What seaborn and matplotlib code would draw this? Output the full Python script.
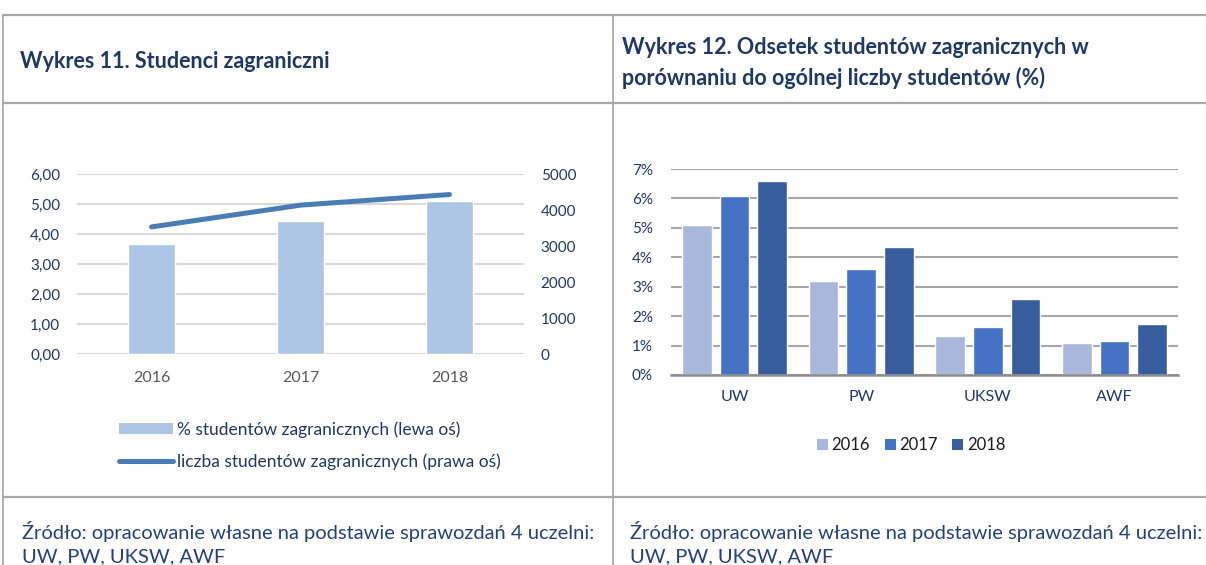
import pandas as pd
import seaborn as sns
import matplotlib.pyplot as plt
from matplotlib.lines import Line2D
from matplotlib.patches import Patch
from matplotlib.ticker import FuncFormatter, MultipleLocator

# Wykres 11 - dane
lata = ["2016", "2017", "2018"]
procent_zagranicznych = [3.66, 4.44, 5.11]     # lewa oś (%)
liczba_zagranicznych = [3530, 4135, 4430]      # prawa oś

# Wykres 12 - dane
uczelnie = ["UW", "PW", "UKSW", "AWF"]
odsetek_2016 = [5.10, 3.20, 1.32, 1.08]
odsetek_2017 = [6.09, 3.59, 1.63, 1.16]
odsetek_2018 = [6.59, 4.34, 2.57, 1.72]
lata_12 = ["2016", "2017", "2018"]

NAVY = "#1F3864"
SRC = "#24417A"
BAR_LIGHT = "#ADC6E6"
LINE_BLUE = "#4A7DB6"
PALETTE_12 = ["#A9B7DC", "#4472C4", "#365E9F"]
FRAME = "#A6A6A6"

sns.set_theme(style="white")
plt.rcParams["font.family"] = ["Lato", "DejaVu Sans"]

W, H = 1206, 565
fig = plt.figure(figsize=(W / 100, H / 100), dpi=100)


def fx(px):
    return px / W


def fy(py):
    return 1 - py / H


# ramka tabeli
for y in (15, 103, 497):
    fig.add_artist(Line2D([fx(3), fx(1206)], [fy(y), fy(y)], color=FRAME, lw=1.6))
for x in (3, 613):
    fig.add_artist(Line2D([fx(x), fx(x)], [fy(15), fy(565)], color=FRAME, lw=1.2))

# tytuły
fig.text(fx(20), fy(62), "Wykres 11. Studenci zagraniczni", fontsize=15.5,
         fontweight="bold", color=NAVY, va="center")
fig.text(fx(622), fy(47), "Wykres 12. Odsetek studentów zagranicznych w", fontsize=15.5,
         fontweight="bold", color=NAVY, va="center")
fig.text(fx(622), fy(78), "porównaniu do ogólnej liczby studentów (%)", fontsize=15.5,
         fontweight="bold", color=NAVY, va="center")

# źródła
for x0 in (22, 630):
    fig.text(fx(x0), fy(531), "Źródło: opracowanie własne na podstawie sprawozdań 4 uczelni:",
             fontsize=14.5, color=SRC, va="center")
    fig.text(fx(x0), fy(557), "UW, PW, UKSW, AWF", fontsize=14.5, color=SRC, va="center")

# ---- Wykres 11 ----
df11 = pd.DataFrame({"rok": lata, "procent": procent_zagranicznych,
                     "liczba": liczba_zagranicznych})

ax1 = fig.add_axes([fx(77), fy(354), fx(524 - 77), (354 - 174) / H])
sns.barplot(data=df11, x="rok", y="procent", color=BAR_LIGHT, saturation=1,
            width=0.315, ax=ax1)
ax1.set_ylim(0, 6)
ax1.yaxis.set_major_locator(MultipleLocator(1))
ax1.yaxis.set_major_formatter(FuncFormatter(lambda v, p: f"{v:.2f}".replace(".", ",")))
ax1.yaxis.grid(True, color="#D9D9D9", lw=1.5)
ax1.set_axisbelow(True)
ax1.set_xlabel("")
ax1.set_ylabel("")
ax1.tick_params(axis="y", length=0, pad=12, labelsize=11, labelcolor=NAVY)
ax1.tick_params(axis="x", length=0, pad=12, labelsize=11.5, labelcolor="#595959")
sns.despine(ax=ax1, left=True, bottom=True)

ax2 = ax1.twinx()
sns.pointplot(data=df11, x="rok", y="liczba", color=LINE_BLUE, marker="",
              linewidth=3.6, errorbar=None, ax=ax2)
for ln in ax2.lines:
    ln.set_solid_capstyle("round")
ax2.set_ylim(0, 5000)
ax2.yaxis.set_major_locator(MultipleLocator(1000))
ax2.set_ylabel("")
ax2.set_xlabel("")
ax2.tick_params(axis="y", length=0, pad=12, labelsize=11, labelcolor=NAVY)
for s in ax2.spines.values():
    s.set_visible(False)

handles11 = [
    Patch(facecolor=BAR_LIGHT, edgecolor="none"),
    Line2D([0], [0], color=LINE_BLUE, lw=3.6, solid_capstyle="round"),
]
fig.legend(handles11, ["% studentów zagranicznych (lewa oś)",
                       "liczba studentów zagranicznych (prawa oś)"],
           loc="upper left", bbox_to_anchor=(fx(119), fy(421)), frameon=False,
           fontsize=12.5, labelcolor=NAVY, handlelength=3.1, handleheight=0.63,
           handletextpad=0.24, labelspacing=0.9, borderpad=0, borderaxespad=0)

# ---- Wykres 12 ----
df12 = pd.DataFrame({
    "uczelnia": uczelnie * 3,
    "rok": [r for r in lata_12 for _ in uczelnie],
    "odsetek": odsetek_2016 + odsetek_2017 + odsetek_2018,
})

ax3 = fig.add_axes([fx(671), fy(375), fx(1178 - 671), (375 - 169) / H])
sns.barplot(data=df12, x="uczelnia", y="odsetek", hue="rok", palette=PALETTE_12,
            saturation=1, width=0.89, gap=0.21, ax=ax3, legend=False)
ax3.set_ylim(0, 7)
ax3.yaxis.set_major_locator(MultipleLocator(1))
ax3.yaxis.set_major_formatter(FuncFormatter(lambda v, p: f"{int(round(v))}%"))
ax3.yaxis.grid(True, color="#A6A6A6", lw=1.5)
ax3.set_axisbelow(True)
ax3.set_xlabel("")
ax3.set_ylabel("")
ax3.tick_params(axis="y", length=0, pad=13, labelsize=11, labelcolor=NAVY)
ax3.tick_params(axis="x", length=0, pad=11, labelsize=11.5, labelcolor=NAVY)
sns.despine(ax=ax3, left=True)
ax3.spines["bottom"].set_color("#8C8C8C")
ax3.spines["bottom"].set_linewidth(1.8)

handles12 = [Patch(facecolor=c, edgecolor="none") for c in PALETTE_12]
fig.legend(handles12, lata_12, loc="center", bbox_to_anchor=(fx(911), fy(445)),
           ncol=3, frameon=False, fontsize=12, labelcolor="#1A1A1A",
           handlelength=0.66, handleheight=0.66, handletextpad=0.2,
           columnspacing=0.9, borderpad=0)

fig.savefig("out.png", dpi=100)
